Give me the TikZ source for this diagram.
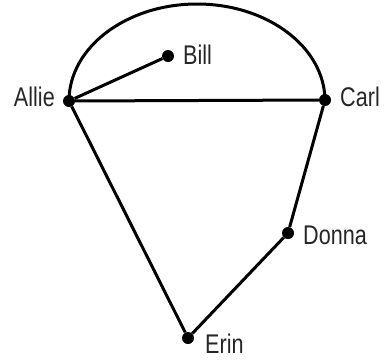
\documentclass[tikz,border=0pt]{standalone}
\usepackage{fontspec}
\setmainfont[FakeStretch=0.8]{Liberation Sans}
\begin{document}
\begin{tikzpicture}[x=1pt,y=-1pt,
  dot/.style={circle,fill=black,inner sep=0pt,minimum size=12pt},
  lbl/.style={inner sep=0pt,font=\fontsize{27}{30}\selectfont,text=black!85},
  edge/.style={line width=3pt,black}]
\useasboundingbox (0,0) rectangle (385,360);
\node[dot] (A) at (69,101) {};
\node[dot] (B) at (168,56) {};
\node[dot] (C) at (325,100) {};
\node[dot] (D) at (288,233) {};
\node[dot] (E) at (188,338) {};
\node[lbl,anchor=east] (LA) at (55,97) {Allie};
\node[lbl,anchor=west] (LB) at (183,55) {Bill};
\node[lbl,anchor=west] (LC) at (340,97) {Carl};
\node[lbl,anchor=west] (LD) at (303,235) {Donna};
\node[lbl,anchor=west] (LE) at (205,344) {Erin};
\draw[edge] (A.center) arc[start angle=180,end angle=0,x radius=128pt,y radius=97pt];
\draw[edge] (A) -- (B);
\draw[edge] (A) -- (C);
\draw[edge] (A) -- (E);
\draw[edge] (E) -- (D);
\draw[edge] (D) -- (C);
\end{tikzpicture}
\end{document}
